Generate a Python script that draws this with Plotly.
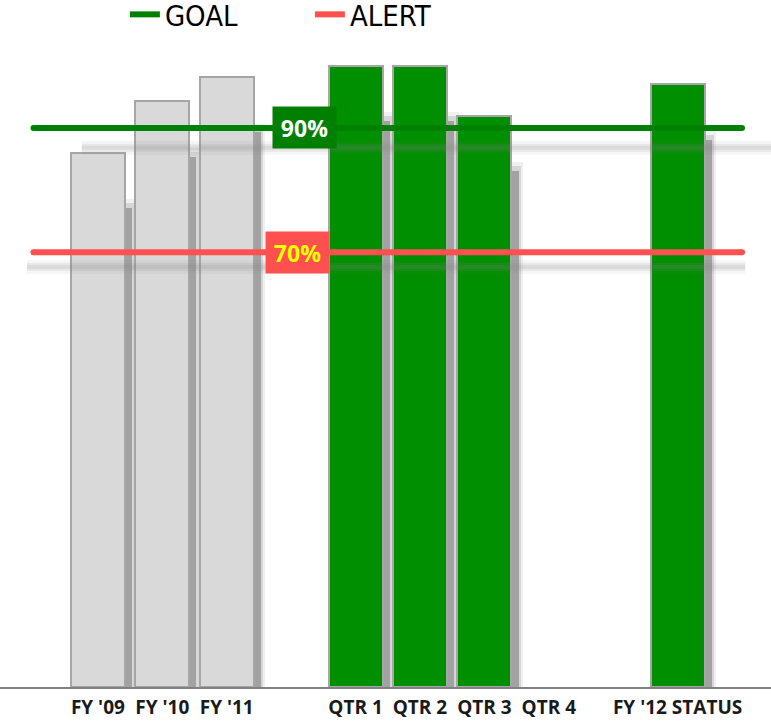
import plotly.graph_objects as go

# Category slots along the x axis (empty strings are spacer slots)
categories = ["FY '09", "FY '10", "FY '11", "", "QTR 1", "QTR 2", "QTR 3", "QTR 4", "", "FY '12 STATUS"]
# Prior fiscal years (gray) and current fiscal year (green), in percent
prior_values = [86, 94.3, 98.2, None, None, None, None, None, None, None]
current_values = [None, None, None, None, 100, 100, 92, None, None, 97]
goal_pct = 90
alert_pct = 70

positions = list(range(len(categories)))
tick_pos = [p for p, c in zip(positions, categories) if c]
tick_txt = [f"<b>{c}</b>" for c in categories if c]

BAR_W = 0.84
SHADOW_DX = 0.11       # shadow shift to the right (x units)
SHADOW_DY = 8.9        # shadow drop (percent units)

fig = go.Figure()

# soft drop shadows behind the bars, built from the bar values
all_vals = [p if p is not None else c for p, c in zip(prior_values, current_values)]
for spread, alpha in [(0.07, 0.10), (0.04, 0.20), (0.0, 0.50)]:
    sh_x = [x for x, v in zip(positions, all_vals) if v is not None]
    sh_y = [v - SHADOW_DY + spread * 20 for v in all_vals if v is not None]
    fig.add_trace(go.Bar(
        x=sh_x, y=sh_y, width=BAR_W + 2 * spread,
        offset=-BAR_W / 2 + SHADOW_DX - spread,
        marker=dict(color=f"rgba(110,110,110,{alpha})", line=dict(width=0)),
        showlegend=False, hoverinfo="skip"))

fig.add_trace(go.Bar(
    x=positions, y=prior_values, width=BAR_W,
    marker=dict(color="#d9d9d9", line=dict(color="#a6a6a6", width=2)),
    showlegend=False))
fig.add_trace(go.Bar(
    x=positions, y=current_values, width=BAR_W,
    marker=dict(color="#008f00", line=dict(color="#a6a6a6", width=2)),
    showlegend=False))

x_start, x_end = -1.0, 10.0

# faint blurred shadows under the reference lines
for w, a in [(14, 0.07), (8, 0.12), (4, 0.12)]:
    fig.add_shape(type="line", xref="x", yref="y", x0=-0.25, x1=10.6,
                  y0=goal_pct - 3.2, y1=goal_pct - 3.2,
                  line=dict(color=f"rgba(130,130,130,{a})", width=w), layer="above")
    fig.add_shape(type="line", xref="x", yref="y", x0=-1.1, x1=10.05,
                  y0=alert_pct - 2.4, y1=alert_pct - 2.4,
                  line=dict(color=f"rgba(130,130,130,{a})", width=w), layer="above")

for name, val, col in [("GOAL", goal_pct, "#008000"), ("ALERT", alert_pct, "#ff5050")]:
    fig.add_trace(go.Scatter(
        x=[x_start, x_end], y=[val, val], mode="lines", name=name,
        line=dict(color=col, width=6), hoverinfo="skip"))
    fig.add_trace(go.Scatter(
        x=[x_start, x_end], y=[val, val], mode="markers", showlegend=False,
        marker=dict(color=col, size=6, line=dict(width=0)), hoverinfo="skip"))

label_font = dict(family="Open Sans, Noto Sans, sans-serif", size=23)
fig.add_annotation(x=3, y=goal_pct, xref="x", yref="y", text=f"<b>{goal_pct}%</b>",
                   showarrow=False, xshift=13, bgcolor="#007f00",
                   font=dict(color="#ffffff", **label_font),
                   width=55, height=33, borderpad=4)
fig.add_annotation(x=3, y=alert_pct, xref="x", yref="y", text=f"<b>{alert_pct}%</b>",
                   showarrow=False, xshift=6, bgcolor="#ff5050",
                   font=dict(color="#ffff00", **label_font),
                   width=55, height=33, borderpad=4)

fig.update_layout(
    width=771, height=722,
    margin=dict(l=0, r=0, t=0, b=35, autoexpand=False),
    paper_bgcolor="white", plot_bgcolor="white",
    barmode="overlay", bargap=0,
    showlegend=True,
    legend=dict(orientation="h", x=0.162, y=1.016, xanchor="left", yanchor="top",
                font=dict(family="Liberation Sans Narrow, DejaVu Sans Condensed, sans-serif",
                          size=29, color="#000000"),
                entrywidth=140, entrywidthmode="pixels",
                bgcolor="rgba(0,0,0,0)"),
    xaxis=dict(range=[-1.52, 10.45], tickmode="array", tickvals=tick_pos, ticktext=tick_txt,
               showgrid=False, zeroline=False, showline=True, linecolor="#808080", linewidth=2,
               ticks="outside", ticklen=2, tickcolor="rgba(0,0,0,0)",
               tickfont=dict(family="Open Sans, Noto Sans, sans-serif", size=19, color="#1a1a1a")),
    yaxis=dict(range=[0, 110.6], showgrid=False, zeroline=False, showline=False,
               showticklabels=False, ticks=""),
)

fig.write_html("out.html")
